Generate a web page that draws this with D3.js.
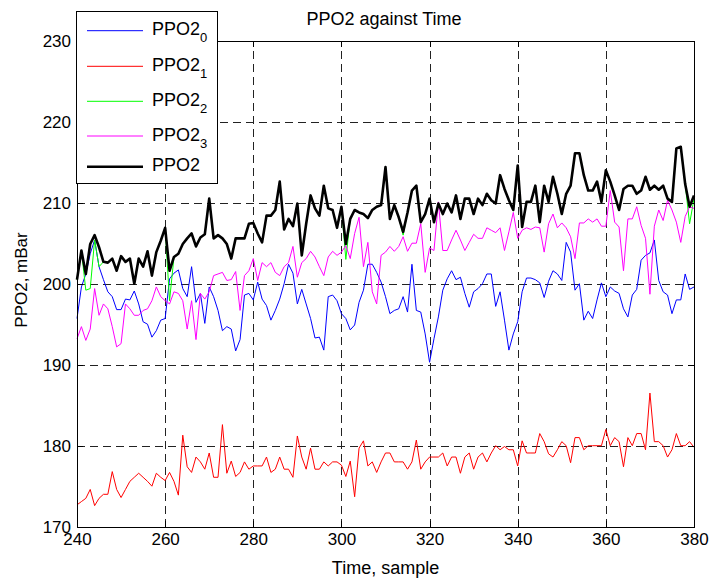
<!DOCTYPE html>
<html>
<head>
<meta charset="utf-8">
<script src="https://cdn.jsdelivr.net/npm/d3@7"></script>
<style>
  body { margin: 0; background: #fff; }
  svg { display: block; font-family: "Liberation Sans", Arial, sans-serif; }
  .grid line { stroke: #222; stroke-width: 1; stroke-dasharray: 8,5; shape-rendering: crispEdges; }
  .grid path { display: none; }
  .axis path, .axis line { stroke: #000; stroke-width: 1; shape-rendering: crispEdges; }
  .axis text { font-size: 17px; fill: #000; }
</style>
</head>
<body>
<svg></svg>
<script>
var width = 712;
var height = 579;

// sample numbers 240..380
var startSample = 240;
var xTicks = [240, 260, 280, 300, 320, 340, 360, 380];
var yTicks = [170, 180, 190, 200, 210, 220, 230];

var ppo2_0 = [195.7, 199.6, 201.2, 203.7, 205.4, 202.1, 200.5, 199.0, 198.4, 196.8,
  196.8, 198.1, 198.0, 199.1, 197.5, 195.3, 195.0, 193.4, 194.2, 195.5,
  195.7, 200.6, 201.3, 201.7, 199.4, 198.4, 202.1, 197.7, 198.8, 195.1,
  199.6, 198.4, 196.7, 194.2, 194.7, 194.4, 191.7, 193.1, 198.6, 198.8,
  198.0, 200.2, 198.1, 197.3, 195.5, 196.7, 198.1, 200.0, 202.4, 201.3,
  197.5, 199.3, 197.5, 195.7, 193.3, 193.4, 191.8, 198.4, 198.6, 197.9,
  196.3, 195.7, 194.3, 194.9, 197.7, 199.2, 202.4, 202.4, 201.4, 200.2,
  198.4, 196.3, 196.7, 196.9, 198.4, 196.5, 202.4, 196.7, 196.5, 193.8,
  190.3, 193.2, 195.9, 199.2, 200.6, 201.6, 200.5, 200.8, 198.8, 197.1,
  199.0, 199.4, 200.0, 201.2, 201.2, 197.2, 199.0, 195.5, 191.8, 193.8,
  195.3, 199.0, 200.7, 200.7, 200.5, 200.1, 198.3, 200.3, 201.6, 201.2,
  200.4, 205.1, 203.9, 199.2, 200.0, 195.5, 196.6, 195.7, 198.0, 200.1,
  198.4, 199.6, 199.1, 198.8, 196.9, 195.9, 198.6, 199.3, 202.9, 203.5,
  203.8, 205.4, 200.4, 199.0, 198.6, 196.3, 198.0, 198.0, 201.2, 199.3,
  199.6];

var ppo2_1 = [172.7, 173.1, 173.5, 174.6, 172.6, 173.5, 174.0, 174.0, 176.8, 174.6,
  173.6, 174.6, 175.6, 176.1, 176.6, 176.1, 175.6, 175.0, 176.6, 176.1,
  175.7, 176.7, 175.6, 173.9, 181.3, 177.4, 176.7, 178.6, 178.0, 177.1,
  179.1, 176.1, 176.1, 182.6, 176.6, 178.1, 176.2, 176.7, 178.0, 177.1,
  177.5, 177.5, 177.5, 178.6, 176.7, 177.1, 178.6, 177.1, 177.1, 176.1,
  181.2, 178.6, 177.1, 179.7, 177.1, 177.1, 178.0, 177.5, 178.0, 178.0,
  177.6, 176.2, 178.1, 173.7, 179.7, 180.6, 177.5, 178.0, 176.7, 178.0,
  179.1, 179.1, 178.0, 178.0, 178.0, 177.1, 178.0, 180.7, 177.1, 178.0,
  178.6, 178.6, 178.6, 179.1, 177.5, 178.6, 178.6, 176.6, 178.6, 179.1,
  177.1, 178.6, 179.1, 178.0, 179.1, 180.0, 179.5, 179.9, 179.5, 179.5,
  177.5, 180.6, 179.1, 179.1, 179.1, 181.5, 180.5, 179.0, 178.6, 179.5,
  180.5, 180.0, 177.9, 181.0, 181.0, 179.5, 180.0, 180.0, 180.0, 180.0,
  182.0, 180.0, 181.0, 180.5, 177.4, 181.0, 180.0, 181.5, 181.5, 179.5,
  186.5, 180.5, 180.5, 180.0, 178.6, 179.5, 181.5, 180.0, 180.0, 180.5,
  179.8];

var ppo2_2 = [200.5, 204.1, 199.2, 199.4, 205.4, 202.1, 202.7, 202.6, 203.1, 201.6,
  203.4, 202.7, 203.1, 200.0, 203.1, 202.1, 204.0, 201.0, 203.9, 205.3,
  206.9, 197.9, 203.3, 203.7, 204.9, 205.6, 206.2, 204.6, 205.7, 206.1,
  210.5, 205.6, 206.0, 205.6, 204.9, 203.1, 205.6, 205.6, 205.6, 207.4,
  207.5, 206.2, 205.1, 208.4, 208.4, 209.1, 212.6, 206.7, 208.0, 207.1,
  209.9, 203.5, 207.4, 210.9, 209.3, 208.4, 212.1, 209.3, 209.1, 206.9,
  209.5, 203.0, 208.0, 209.1, 208.8, 208.6, 208.1, 209.1, 209.5, 209.7,
  214.4, 208.0, 209.7, 208.2, 206.0, 208.8, 211.5, 212.1, 207.6, 208.6,
  210.5, 207.6, 209.9, 208.6, 209.9, 208.8, 210.9, 208.0, 210.5, 210.5,
  208.6, 210.5, 209.7, 211.1, 210.3, 209.9, 213.4, 211.7, 210.3, 209.1,
  214.6, 207.0, 210.1, 210.1, 212.1, 207.6, 212.1, 210.1, 213.2, 211.1,
  208.6, 211.1, 212.1, 216.1, 216.1, 213.4, 211.5, 211.5, 212.6, 210.1,
  214.0, 212.6, 210.9, 209.1, 211.7, 212.1, 212.1, 211.1, 211.5, 213.2,
  211.6, 212.1, 211.6, 212.1, 210.5, 210.1, 216.7, 216.9, 212.3, 207.4,
  210.5];

var ppo2_3 = [193.2, 194.7, 193.0, 194.4, 199.4, 196.1, 197.5, 196.9, 194.7, 192.2,
  192.6, 197.5, 196.9, 196.1, 196.1, 196.7, 196.9, 197.9, 199.6, 198.4,
  197.9, 197.5, 199.0, 198.8, 197.9, 194.4, 197.9, 193.1, 198.8, 198.1,
  199.0, 201.0, 201.2, 201.4, 200.4, 200.5, 201.5, 196.7, 201.0, 201.6,
  203.1, 200.4, 202.6, 202.1, 202.6, 201.4, 201.0, 202.1, 202.6, 204.6,
  200.8, 202.6, 203.1, 204.0, 203.3, 202.1, 201.0, 203.3, 204.0, 203.5,
  203.9, 204.7, 203.1, 206.2, 208.2, 202.1, 205.1, 199.0, 197.5, 203.5,
  203.9, 204.6, 204.0, 204.6, 205.8, 204.0, 205.0, 205.0, 207.4, 201.4,
  204.4, 204.1, 210.1, 204.1, 204.1, 205.4, 206.6, 205.4, 204.1, 205.1,
  206.1, 205.6, 205.6, 206.9, 206.6, 206.3, 206.9, 204.1, 206.4, 208.8,
  205.6, 206.6, 206.9, 206.7, 207.0, 206.9, 203.9, 207.4, 208.6, 206.9,
  207.5, 206.9, 205.8, 203.1, 207.5, 207.5, 208.0, 207.6, 208.0, 207.1,
  207.1, 211.5, 207.6, 207.0, 201.6, 208.0, 208.0, 209.5, 207.2, 205.6,
  198.7, 207.1, 209.1, 207.8, 210.3, 209.1, 207.6, 205.1, 208.3, 209.5,
  209.3];

var ppo2 = [200.5, 204.1, 201.2, 204.9, 206.0, 204.5, 202.7, 202.6, 203.1, 201.6,
  203.4, 202.7, 203.1, 200.0, 203.1, 202.1, 204.0, 201.0, 203.9, 205.3,
  206.9, 201.6, 203.3, 203.7, 204.9, 205.6, 206.2, 204.6, 205.7, 206.1,
  210.5, 205.6, 206.0, 205.6, 204.9, 203.1, 205.6, 205.6, 205.6, 207.4,
  207.5, 206.2, 205.1, 208.4, 208.4, 209.1, 212.6, 206.7, 208.0, 207.1,
  209.9, 203.5, 207.4, 210.9, 209.3, 208.4, 212.1, 209.3, 209.1, 206.9,
  209.5, 204.9, 208.0, 209.1, 208.8, 208.6, 208.1, 209.1, 209.5, 209.7,
  214.4, 208.0, 209.7, 208.2, 206.4, 208.8, 211.5, 212.1, 207.6, 208.6,
  210.5, 207.6, 209.9, 208.6, 209.9, 208.8, 210.9, 208.0, 210.5, 210.5,
  208.6, 210.5, 209.7, 211.1, 210.3, 209.9, 213.4, 211.7, 210.3, 209.1,
  214.6, 207.0, 210.1, 210.1, 212.1, 207.6, 212.1, 210.1, 213.2, 211.1,
  208.6, 211.1, 212.1, 216.1, 216.1, 213.4, 211.5, 211.5, 212.6, 210.1,
  214.0, 212.6, 210.9, 209.1, 211.7, 212.1, 212.1, 211.1, 211.5, 213.2,
  211.6, 212.1, 211.6, 212.1, 210.5, 210.1, 216.7, 216.9, 212.3, 209.5,
  210.9];

var seriesNames = ["0", "1", "2", "3", ""];
var seriesColors = ["#0000ff", "#ff0000", "#00ff00", "#ff00ff", "#000000"];
var seriesWidths = [1, 1, 1, 1, 2.6];
var allSeries = [ppo2_0, ppo2_1, ppo2_2, ppo2_3, ppo2];

// plot box (window.top is taken, so prefixed names)
var plotLeft = 77, plotRight = 694, plotTop = 40.7, plotBottom = 526.7;

var svg = d3.select('svg')
    .attr('width', width)
    .attr('height', height);

var x = d3.scaleLinear().domain([240, 380]).range([plotLeft, plotRight]);
var y = d3.scaleLinear().domain([170, 230]).range([plotBottom, plotTop]);

// dashed grid
svg.append('g').attr('class', 'grid')
    .attr('transform', 'translate(0,' + plotBottom + ')')
    .call(d3.axisBottom(x).tickValues(xTicks.slice(1, -1)).tickSize(-(plotBottom - plotTop)).tickFormat(''));
svg.append('g').attr('class', 'grid')
    .attr('transform', 'translate(' + plotLeft + ',0)')
    .call(d3.axisLeft(y).tickValues(yTicks.slice(1, -1)).tickSize(-(plotRight - plotLeft)).tickFormat(''));

var line = d3.line()
    .x(function(d, i) { return x(startSample + i); })
    .y(function(d) { return y(d); });

svg.append('g').selectAll('path')
    .data(allSeries)
    .enter()
    .append('path')
    .attr('d', line)
    .attr('fill', 'none')
    .attr('stroke', function(d, i) { return seriesColors[i]; })
    .attr('stroke-width', function(d, i) { return seriesWidths[i]; })
    .attr('stroke-linejoin', 'round');

// axes, ticks pointing inwards
svg.append('g').attr('class', 'axis')
    .attr('transform', 'translate(0,' + plotBottom + ')')
    .call(d3.axisBottom(x).tickValues(xTicks).tickSizeInner(-6).tickSizeOuter(0).tickPadding(6).tickFormat(d3.format('d')));
svg.append('g').attr('class', 'axis')
    .attr('transform', 'translate(0,' + plotTop + ')')
    .call(d3.axisTop(x).tickValues(xTicks).tickSizeInner(-6).tickSizeOuter(0).tickFormat(''));
svg.append('g').attr('class', 'axis')
    .attr('transform', 'translate(' + plotLeft + ',0)')
    .call(d3.axisLeft(y).tickValues(yTicks).tickSizeInner(-6).tickSizeOuter(0).tickPadding(6).tickFormat(d3.format('d')));
svg.append('g').attr('class', 'axis')
    .attr('transform', 'translate(' + plotRight + ',0)')
    .call(d3.axisRight(y).tickValues(yTicks).tickSizeInner(-6).tickSizeOuter(0).tickFormat(''));

svg.append('text')
    .attr('x', 384).attr('y', 25)
    .attr('text-anchor', 'middle')
    .style('font-size', '18px')
    .text('PPO2 against Time');

svg.append('text')
    .attr('x', (plotLeft + plotRight) / 2).attr('y', 574)
    .attr('text-anchor', 'middle')
    .style('font-size', '18px')
    .text('Time, sample');

svg.append('text')
    .attr('transform', 'translate(27,280) rotate(-90)')
    .attr('text-anchor', 'middle')
    .style('font-size', '17px')
    .text('PPO2, mBar');

// legend
var legend = svg.append('g');
legend.append('rect')
    .attr('x', 76).attr('y', 11)
    .attr('width', 141).attr('height', 172)
    .attr('fill', '#fff').attr('stroke', '#000')
    .attr('shape-rendering', 'crispEdges');

var rowY = [30.7, 66.3, 101.3, 136, 166.7];
var rows = legend.selectAll('g.row')
    .data(seriesNames)
    .enter()
    .append('g').attr('class', 'row')
    .attr('transform', function(d, i) { return 'translate(0,' + rowY[i] + ')'; });

rows.append('line')
    .attr('x1', 87).attr('x2', 143)
    .attr('stroke', function(d, i) { return seriesColors[i]; })
    .attr('stroke-width', function(d, i) { return seriesWidths[i]; });

var lt = rows.append('text')
    .attr('x', 152).attr('y', 4.5)
    .style('font-size', '18px');
lt.append('tspan').text('PPO2');
lt.append('tspan')
    .attr('dy', 7)
    .style('font-size', '13px')
    .text(function(d) { return d; });
</script>
</body>
</html>
